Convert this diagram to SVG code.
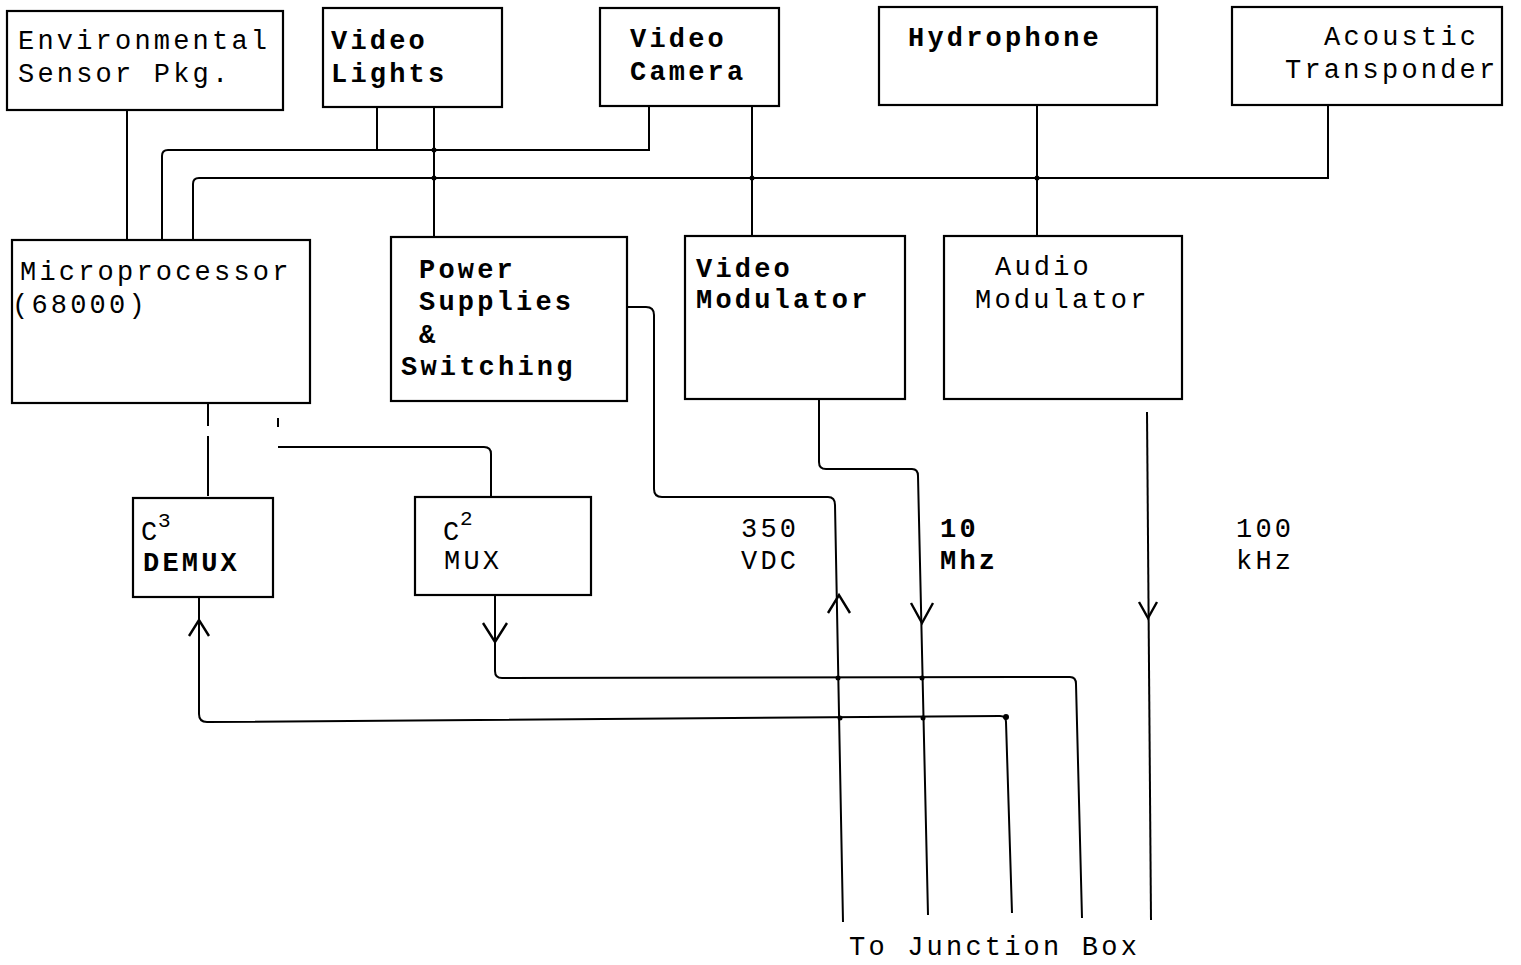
<svg xmlns="http://www.w3.org/2000/svg" width="1521" height="965" viewBox="0 0 1521 965">
<style>
.box{fill:none;stroke:#000;stroke-width:2.2}
.ln{fill:none;stroke:#000;stroke-width:2}
.arr{fill:none;stroke:#000;stroke-width:2.4;stroke-linejoin:miter}
.t{font-family:"Liberation Mono","Courier New",monospace;font-size:27px;letter-spacing:3.2px;fill:#000}
.b{font-weight:bold}
.sup{font-family:"Liberation Mono","Courier New",monospace;font-size:21px;fill:#000}
.dot{fill:#000}
</style>
<rect width="1521" height="965" fill="#fff"/>
<g id="env"><rect class="box" x="7" y="11" width="276" height="99"/><text class="t" x="18" y="49">Environmental</text><text class="t" x="18" y="82">Sensor Pkg.</text></g>
<g id="lights"><rect class="box" x="323" y="8" width="179" height="99"/><text class="t b" x="331" y="49">Video</text><text class="t b" x="331" y="82">Lights</text></g>
<g id="camera"><rect class="box" x="600" y="8" width="179" height="98"/><text class="t b" x="630" y="47">Video</text><text class="t b" x="630" y="80">Camera</text></g>
<g id="hydrophone"><rect class="box" x="879" y="7" width="278" height="98"/><text class="t b" x="908" y="46">Hydrophone</text></g>
<g id="acoustic"><rect class="box" x="1232" y="7" width="270" height="98"/><text class="t" x="1324" y="45">Acoustic</text><text class="t" x="1285" y="78">Transponder</text></g>
<g id="micro"><rect class="box" x="12" y="240" width="298" height="163"/><text class="t" x="20" y="280">Microprocessor</text><text class="t" x="12" y="313">(68000)</text></g>
<g id="power"><rect class="box" x="391" y="237" width="236" height="164"/><text class="t b" x="419" y="278">Power</text><text class="t b" x="419" y="310">Supplies</text><text class="t b" x="419" y="343">&amp;</text><text class="t b" x="401" y="375">Switching</text></g>
<g id="vmod"><rect class="box" x="685" y="236" width="220" height="163"/><text class="t b" x="696" y="277">Video</text><text class="t b" x="696" y="308">Modulator</text></g>
<g id="amod"><rect class="box" x="944" y="236" width="238" height="163"/><text class="t" x="995" y="275">Audio</text><text class="t" x="975" y="308">Modulator</text></g>
<g id="demux"><rect class="box" x="133" y="498" width="140" height="99"/><text class="t" x="141" y="540">C</text><text class="sup" x="158" y="527">3</text><text class="t b" x="143" y="571">DEMUX</text></g>
<g id="mux"><rect class="box" x="415" y="497" width="176" height="98"/><text class="t" x="443" y="540">C</text><text class="sup" x="460" y="525">2</text><text class="t" x="444" y="569">MUX</text></g>
<g id="labels">
<text class="t" x="741" y="537">350</text><text class="t" x="741" y="569">VDC</text>
<text class="t b" x="940" y="537">10</text><text class="t b" x="940" y="569">Mhz</text>
<text class="t" x="1236" y="537">100</text><text class="t" x="1236" y="569">kHz</text>
<text class="t" x="849" y="955">To Junction Box</text>
</g>
<g id="connectors">
<path class="ln" d="M127 110 V240"/>
<path class="ln" d="M377 107 V149"/>
<path class="ln" d="M162 240 V156 Q162 150 168 150 H649 V106"/>
<path class="ln" d="M434 107 V237"/>
<path class="ln" d="M193 240 V184 Q193 178 199 178 H1328 V105"/>
<path class="ln" d="M752 106 V236"/>
<path class="ln" d="M1037 105 V236"/>
<path class="ln" d="M208 404 V498" stroke-dasharray="22 10 60 6"/>
<path class="ln" d="M278 418 V427"/>
<path class="ln" d="M278 447 H484 Q491 447 491 454 V497"/>
<path class="ln" d="M627 307 H646 Q654 307 654 315 V489 Q654 497 662 497 H828 Q835 497 835 505 L843 922"/>
<path class="ln" d="M819 399 V462 Q819 469 826 469 H912 Q918 469 918 476 L928 915"/>
<path class="ln" d="M1147 412 L1151 920"/>
<path class="ln" d="M199 597 V714 Q199 722 207 722 L1000 716 Q1006 716 1006 722 L1012 913"/>
<path class="ln" d="M495 595 V671 Q495 678 502 678 L1070 677 Q1076 677 1076 684 L1082 918"/>
<path class="arr" d="M189 636 L199 620 L209 636"/>
<path class="arr" d="M483 623 L495 642 L507 623"/>
<path class="arr" d="M828 613 L839 595 L850 613"/>
<path class="arr" d="M911 603 L922 623 L933 603"/>
<path class="arr" d="M1139 602 L1148 618 L1157 602"/>
<circle class="dot" cx="434" cy="150" r="2.5"/>
<circle class="dot" cx="434" cy="178" r="2.5"/>
<circle class="dot" cx="752" cy="178" r="2.5"/>
<circle class="dot" cx="1037" cy="178" r="2.5"/>
<circle class="dot" cx="838" cy="678" r="2.5"/>
<circle class="dot" cx="922" cy="678" r="2.5"/>
<circle class="dot" cx="840" cy="718" r="2.5"/>
<circle class="dot" cx="923" cy="718" r="2.5"/>
<circle class="dot" cx="1006" cy="717" r="3"/>
</g>
</svg>
